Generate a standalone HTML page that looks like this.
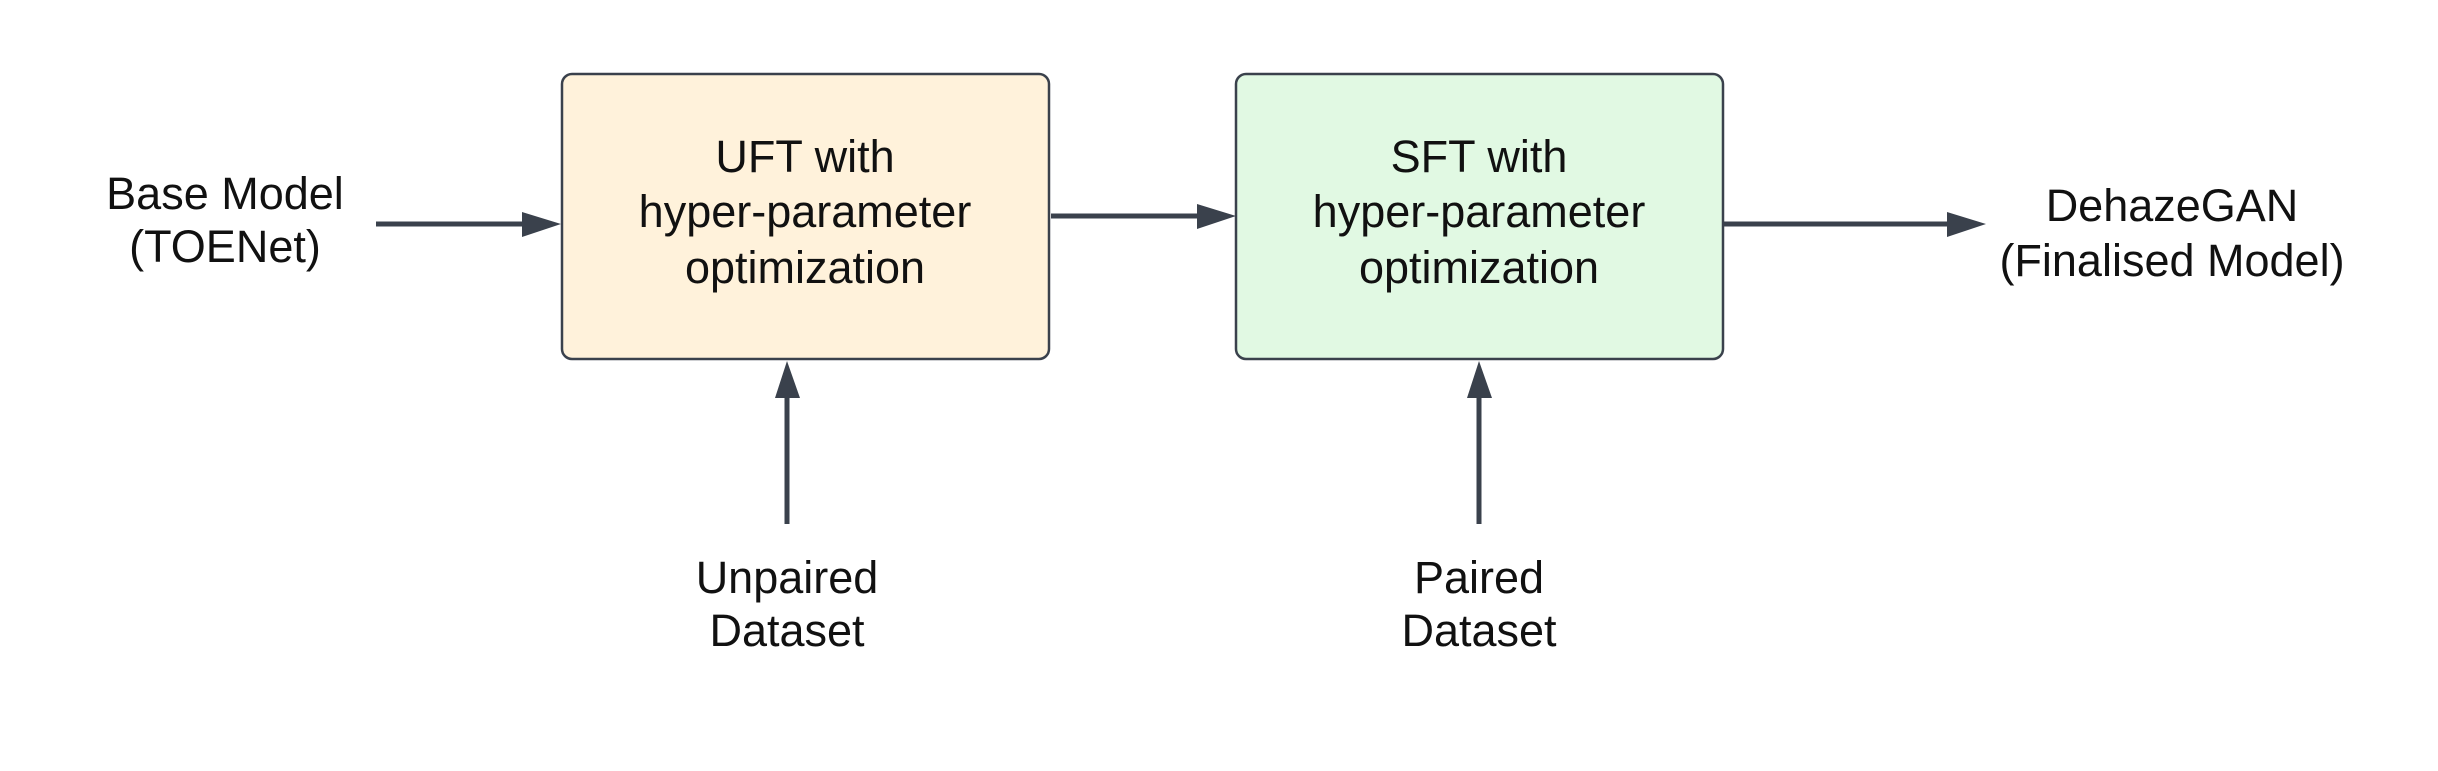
<!DOCTYPE html>
<html><head><meta charset="utf-8"><style>
html,body{margin:0;padding:0;background:#fff}
svg{display:block}
text{font-family:"Liberation Sans",sans-serif;font-size:45px;fill:#111}
</style></head><body>
<svg width="2438" height="771" viewBox="0 0 2438 771" xmlns="http://www.w3.org/2000/svg">
<rect x="562" y="74" width="487" height="285" rx="10" fill="#fff2db" stroke="#3a414c" stroke-width="2.5"/>
<rect x="1236" y="74" width="487" height="285" rx="10" fill="#e1f9e3" stroke="#3a414c" stroke-width="2.5"/>
<g stroke="#3a414c" stroke-width="5" fill="none">
<line x1="376" y1="224" x2="525" y2="224"/>
<line x1="1051" y1="216" x2="1200" y2="216"/>
<line x1="1724" y1="224" x2="1950" y2="224"/>
<line x1="787" y1="524" x2="787" y2="395"/>
<line x1="1479" y1="524" x2="1479" y2="395"/>
</g>
<g fill="#3a414c">
<polygon points="522,212 561,224 522,237"/>
<polygon points="1197,204 1236,216 1197,229"/>
<polygon points="1947,212 1986,224 1947,237"/>
<polygon points="775,398 787,361 800,398"/>
<polygon points="1467,398 1479,361 1492,398"/>
</g>
<g text-anchor="middle">
<text x="225" y="209">Base Model</text>
<text x="225" y="262">(TOENet)</text>
<text x="805" y="172">UFT with</text>
<text x="805" y="227">hyper-parameter</text>
<text x="805" y="283">optimization</text>
<text x="1479" y="172">SFT with</text>
<text x="1479" y="227">hyper-parameter</text>
<text x="1479" y="283">optimization</text>
<text x="2172" y="221">DehazeGAN</text>
<text x="2172" y="276">(Finalised Model)</text>
<text x="787" y="593">Unpaired</text>
<text x="787" y="646">Dataset</text>
<text x="1479" y="593">Paired</text>
<text x="1479" y="646">Dataset</text>
</g>
</svg>
</body></html>
